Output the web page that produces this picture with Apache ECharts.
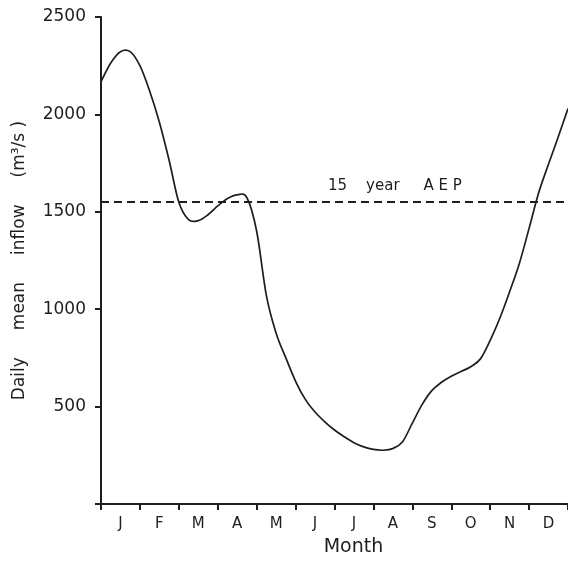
<!DOCTYPE html>
<html>
<head>
<meta charset="utf-8">
<script src="https://cdn.jsdelivr.net/npm/echarts@6/dist/echarts.min.js"></script>
<style>
html,body{margin:0;padding:0;background:#fff;}
#chart{width:568px;height:562px;}
</style>
</head>
<body>
<div id="chart"></div>
<script>
const months = ['J','F','M','A','M','J','J','A','S','O','N','D'];
// position in months from 1 January (0) to 31 December (12), read every quarter month
const monthPos = [0, 0.25, 0.5, 0.75, 1, 1.25, 1.5, 1.75, 2, 2.25, 2.5, 2.75, 3, 3.25, 3.5, 3.75, 4, 4.25, 4.5, 4.75, 5, 5.25, 5.5, 5.75, 6, 6.25, 6.5, 6.75, 7, 7.25, 7.5, 7.75, 8, 8.25, 8.5, 8.75, 9, 9.25, 9.5, 9.75, 10, 10.25, 10.5, 10.75, 11, 11.25, 11.5, 11.75, 12];
const inflow = [2168, 2264, 2322, 2322, 2250, 2120, 1960, 1765, 1549, 1460, 1455, 1485, 1530, 1568, 1587, 1572, 1400, 1070, 877, 750, 630, 537, 472, 422, 380, 345, 315, 293, 280, 276, 285, 320, 415, 510, 582, 625, 656, 680, 705, 745, 840, 955, 1090, 1235, 1415, 1600, 1745, 1885, 2030];
const aepValue = 1550;
const aepLabel = '15    year     A E P';
const aepLabelPos = 7.55;
const yTicks = [0, 500, 1000, 1500, 2000, 2500];

const font = 'DejaVu Sans';
const ink = '#1e1e1e';
const chart = echarts.init(document.getElementById('chart'));

// smooth curve through the data points, positioned by the chart's own axes
function renderCurve(params, api) {
  if (params.dataIndex !== 0) return null;
  const pts = monthPos.map((x, i) => api.coord([x, inflow[i]]));
  let d = 'M' + pts[0][0] + ' ' + pts[0][1];
  for (let i = 0; i < pts.length - 1; i++) {
    const p0 = pts[Math.max(i - 1, 0)], p1 = pts[i], p2 = pts[i + 1], p3 = pts[Math.min(i + 2, pts.length - 1)];
    const c1 = [p1[0] + (p2[0] - p0[0]) / 6, p1[1] + (p2[1] - p0[1]) / 6];
    const c2 = [p2[0] - (p3[0] - p1[0]) / 6, p2[1] - (p3[1] - p1[1]) / 6];
    d += ' C' + c1[0] + ' ' + c1[1] + ' ' + c2[0] + ' ' + c2[1] + ' ' + p2[0] + ' ' + p2[1];
  }
  return {
    type: 'path',
    shape: {pathData: d},
    style: {stroke: ink, fill: null, lineWidth: 1.7}
  };
}

chart.setOption({
  animation: false,
  backgroundColor: '#fff',
  grid: {left: 101, top: 17, right: 0, bottom: 55, containLabel: false},
  xAxis: [
    {
      type: 'value', min: 0, max: 12, interval: 1,
      axisLine: {show: true, lineStyle: {color: ink, width: 2}},
      axisTick: {show: true, length: 6, lineStyle: {color: ink, width: 2}},
      axisLabel: {show: false},
      splitLine: {show: false},
      name: 'Month', nameLocation: 'middle', nameGap: 34,
      nameTextStyle: {fontFamily: font, fontSize: 19, color: ink, padding: [0, 0, 0, 38]}
    },
    {
      type: 'category', data: months, position: 'bottom',
      boundaryGap: true,
      axisLine: {show: false}, axisTick: {show: false},
      axisLabel: {fontFamily: font, fontSize: 15, color: ink, margin: 13},
      splitLine: {show: false}
    }
  ],
  yAxis: {
    type: 'value', min: yTicks[0], max: yTicks[yTicks.length - 1], interval: 500,
    axisLine: {show: true, lineStyle: {color: ink, width: 2}},
    axisTick: {show: true, length: 6, lineStyle: {color: ink, width: 2}},
    axisLabel: {fontFamily: font, fontSize: 17, color: ink, margin: 15,
      formatter: v => v === 0 ? '' : String(v)},
    splitLine: {show: false},
    name: 'Daily     mean     inflow     (m³/s )', nameLocation: 'middle', nameGap: 73,
    nameTextStyle: {fontFamily: font, fontSize: 17, color: ink}
  },
  series: [
    {
      type: 'custom', xAxisIndex: 0,
      data: monthPos.map((x, i) => [x, inflow[i]]),
      renderItem: renderCurve,
      encode: {x: 0, y: 1}
    },
    {
      type: 'line', xAxisIndex: 0,
      data: [[0, aepValue], [12, aepValue]],
      symbol: 'none',
      lineStyle: {color: ink, width: 2, type: [8, 5]},
      markPoint: {
        symbol: 'rect', symbolSize: 0,
        data: [{coord: [aepLabelPos, aepValue]}],
        label: {show: true, position: 'top', distance: 8, formatter: aepLabel,
          fontFamily: font, fontSize: 15, color: ink}
      }
    }
  ]
});
</script>
</body>
</html>
